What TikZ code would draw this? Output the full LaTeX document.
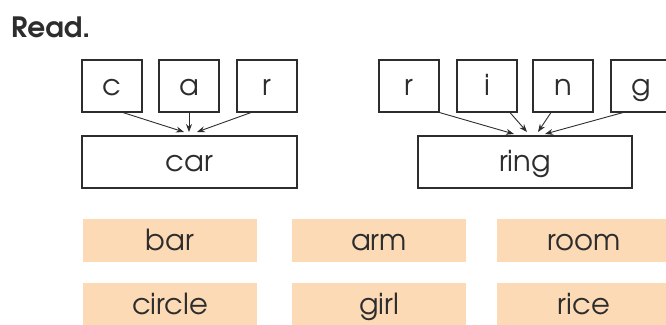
\documentclass[tikz,border=0pt]{standalone}
\usepackage{fontspec}
\setmainfont{TeX Gyre Adventor}
\usetikzlibrary{arrows.meta}
\definecolor{ink}{RGB}{45,45,45}
\definecolor{peach}{RGB}{252,218,182}
\tikzset{
  txt/.style={text=ink, font=\fontsize{29}{31}\selectfont, text height=24pt, text depth=5pt, inner sep=0pt},
  letterbox/.style={txt, draw=ink, line width=1.1pt, minimum width=60pt, minimum height=52pt},
  wordbox/.style={txt, draw=ink, line width=1.1pt, minimum width=215pt, minimum height=52pt},
  tagbox/.style={txt, fill=peach, minimum width=174pt, minimum height=43pt},
  arr/.style={draw=ink, line width=0.9pt, -{Stealth[length=8pt,width=6pt]}}
}
\begin{document}
\begin{tikzpicture}[x=1pt,y=-1pt]
\useasboundingbox (0,0) rectangle (666,324);
\node[anchor=west, text=ink, font=\bfseries\fontsize{28}{30}\selectfont, inner sep=0pt] (read) at (11,27) {Read.};
% car
\node[letterbox] (c1) at (112,86) {c};
\node[letterbox] (a1) at (189,86) {a};
\node[letterbox] (r1) at (267,86) {r};
\node[wordbox] (car) at (189.5,162) {car};
\coordinate (tc) at (184,132);
\coordinate (ta) at (189,132);
\coordinate (tr) at (197,132);
\draw[arr] ([xshift=11pt]c1.south) -- (tc);
\draw[arr] (a1.south) -- (ta);
\draw[arr] ([xshift=-16pt]r1.south) -- (tr);
% ring
\node[letterbox] (r2) at (409,86) {r};
\node[letterbox] (i2) at (487,86) {i};
\node[letterbox] (n2) at (563,86) {n};
\node[letterbox] (g2) at (641,86) {g};
\node[wordbox, minimum width=214pt] (ring) at (525,162) {ring};
\coordinate (sr) at (514,134);
\coordinate (si) at (527,132);
\coordinate (sn) at (538,132);
\coordinate (sg) at (545,134);
\draw[arr] (r2.south east) -- (sr);
\draw[arr] ([xshift=23pt]i2.south) -- (si);
\draw[arr] ([xshift=-12pt]n2.south) -- (sn);
\draw[arr] ([xshift=-18pt]g2.south) -- (sg);
% words
\node[tagbox] (bar) at (170,240.5) {bar};
\node[tagbox] (arm) at (379,240.5) {arm};
\node[tagbox] (room) at (584,240.5) {room};
\node[tagbox] (circle) at (170,304.5) {circle};
\node[tagbox] (girl) at (379,304.5) {girl};
\node[tagbox] (rice) at (584,304.5) {rice};
\end{tikzpicture}
\end{document}
